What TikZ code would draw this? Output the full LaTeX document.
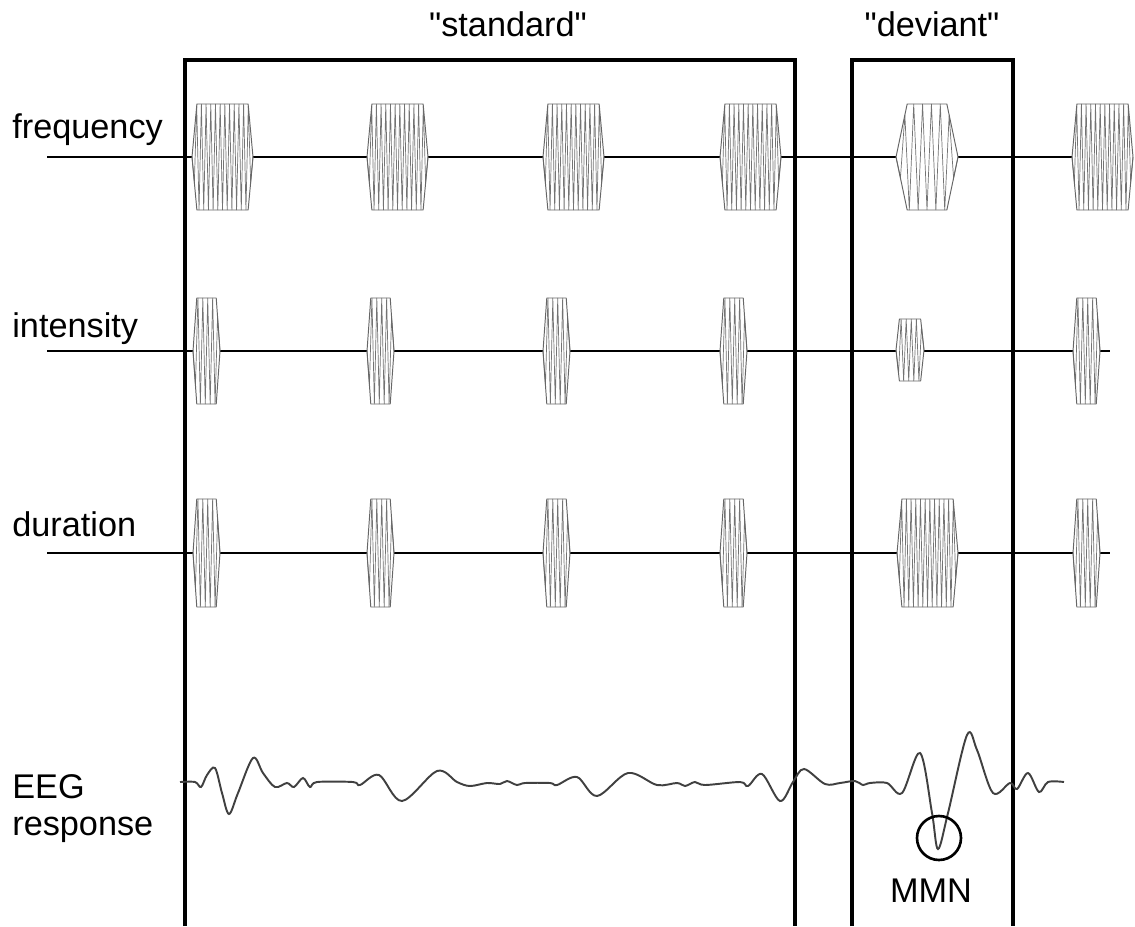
\documentclass[tikz,border=0pt]{standalone}
\usepackage{fontspec}
\setmainfont{Liberation Sans}
\tikzset{
  boxline/.style={line width=1.9pt,black},
  axisline/.style={line width=1.6pt,black},
  toneline/.style={line width=0.4pt,black!55},
  toneedge/.style={line width=0.55pt,black!60,line join=round},
  eeg/.style={line width=1.1pt,black!75},
  lab/.style={font=\fontsize{19.5}{23}\selectfont,inner sep=0pt}
}
% x0, x1, yc, halfheight, ramp fraction, segments
\newcommand\mytone[6]{%
  \pgfmathsetmacro\ta{#1+#5*(#2-#1)}%
  \pgfmathsetmacro\tb{#2-#5*(#2-#1)}%
  \fill[white] (#1,#3) -- (\ta,{#3-#4}) -- (\tb,{#3-#4}) -- (#2,#3) -- (\tb,{#3+#4}) -- (\ta,{#3+#4}) -- cycle;
  \draw[toneline] (#1,#3) \foreach \i in {1,...,#6}{ -- ({#1+\i*(#2-#1)/#6},{#3+(2*mod(\i,2)-1)*#4*min(1,\i/(#6*#5),(#6-\i)/(#6*#5))}) };
  \draw[toneedge] (#1,#3) -- (\ta,{#3-#4}) -- (\tb,{#3-#4}) -- (#2,#3) -- (\tb,{#3+#4}) -- (\ta,{#3+#4}) -- cycle;
}
\begin{document}
\begin{tikzpicture}[x=0.02cm,y=-0.02cm]
\useasboundingbox (0,0) rectangle (1135,926);
% labels
\node[lab,anchor=base] (tstd) at (508,37) {\textquotedbl standard\textquotedbl};
\node[lab,anchor=base] (tdev) at (932,37) {\textquotedbl deviant\textquotedbl};
\node[lab,anchor=base west] (lfreq) at (12,138) {frequency};
\node[lab,anchor=base west] (lint) at (12,337) {intensity};
\node[lab,anchor=base west] (ldur) at (12,536) {duration};
\node[lab,anchor=base west] (leeg) at (12,798) {EEG};
\node[lab,anchor=base west] (lresp) at (12,835) {response};
% axis lines
\coordinate (f0) at (47,157); \coordinate (f1) at (1133,157);
\coordinate (i0) at (47,351); \coordinate (i1) at (1110,351);
\coordinate (d0) at (47,553); \coordinate (d1) at (1110,553);
\draw[axisline] (f0) -- (f1);
\draw[axisline] (i0) -- (i1);
\draw[axisline] (d0) -- (d1);
% boxes
\coordinate (s1) at (185,926); \coordinate (s2) at (185,60); \coordinate (s3) at (795,60); \coordinate (s4) at (795,926);
\coordinate (v1) at (852,926); \coordinate (v2) at (852,60); \coordinate (v3) at (1013,60); \coordinate (v4) at (1013,926);
\draw[boxline,line join=miter] (s1) -- (s2) -- (s3) -- (s4);
\draw[boxline,line join=miter] (v1) -- (v2) -- (v3) -- (v4);
% frequency tones
\foreach \x in {192,367,543,720,1072}{\mytone{\x}{\x+61}{157}{53}{0.08}{26}}
\mytone{896}{958}{157}{53}{0.18}{14}
% intensity tones
\foreach \x in {193,367,543,720,1073}{\mytone{\x}{\x+27}{351}{53}{0.14}{11}}
\mytone{896}{924}{350}{31}{0.12}{11}
% duration tones
\foreach \x in {193,367,543,720,1073}{\mytone{\x}{\x+27}{553}{54}{0.14}{11}}
\mytone{897}{958}{553}{54}{0.08}{26}
% EEG trace
\draw[eeg] plot[smooth,tension=0.55] coordinates {
(180,782) (195,782) (201,787) (207,775) (215,768) (222,793) (229,814) (238,793) (253,758) (263,773) (275,787) (287,783) (294,787) (303,778) (310,787) (317,782) (353,782) (360,785) (379,775) (402,801) (437,771) (457,782) (470,786) (487,783) (500,784)
(507,781) (517,785) (525,783) (550,783) (557,785) (577,777) (597,796) (628,773) (657,785) (677,783) (685,786) (695,782) (705,785) (740,782) (748,786) (762,774) (780,801) (793,782) (804,769) (825,784) (840,783)
(855,781) (863,785) (870,783) (887,783) (902,793) (920,753) (932,813) (938,849) (948,813) (967,735) (977,750) (993,793) (1010,783) (1017,789) (1028,773) (1039,792) (1048,782) (1064,782)};
% MMN
\node[draw,circle,line width=1.5pt,inner sep=0pt,minimum size=0.88cm] (mmnc) at (939,838) {};
\node[lab,anchor=base] (mmn) at (931,902) {MMN};
\end{tikzpicture}
\end{document}
